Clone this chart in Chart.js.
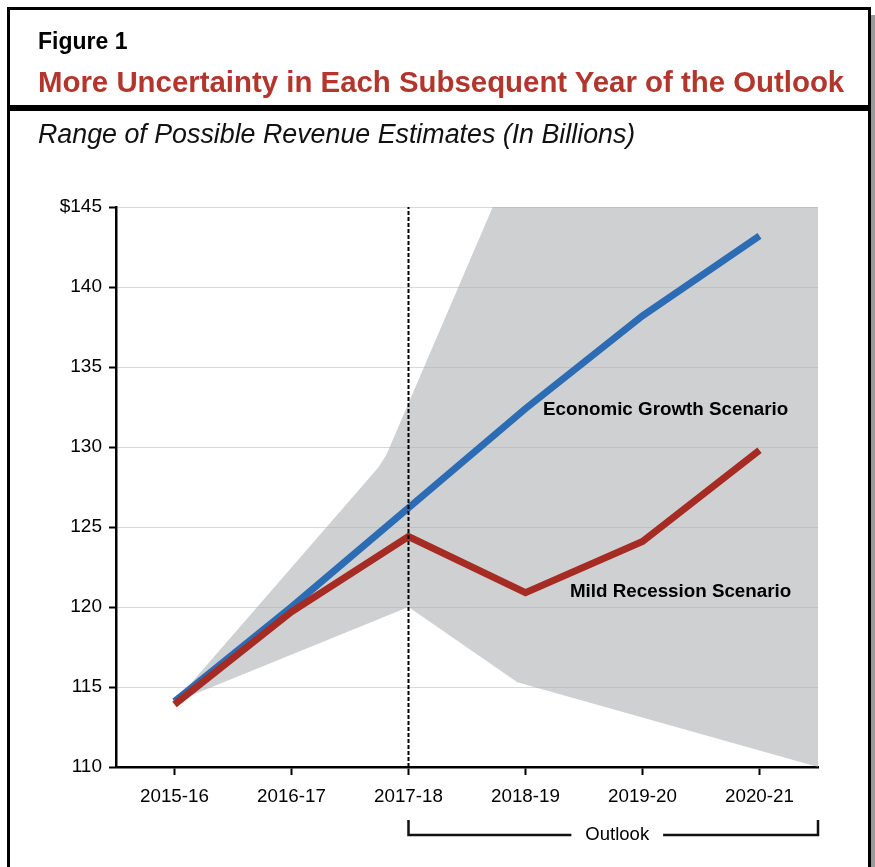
<!DOCTYPE html>
<html>
<head>
<meta charset="utf-8">
<script src="https://cdn.jsdelivr.net/npm/chart.js@4.4.1/dist/chart.umd.min.js"></script>
<style>
  body { margin:0; background:#fff; }
  #page { position:relative; width:875px; height:867px; overflow:hidden; background:#fff; font-family:'Liberation Sans', Arial, Helvetica, sans-serif; }
  #frame { position:absolute; left:7px; top:7px; width:864px; height:900px; border:3px solid #000; box-sizing:border-box; }
  #shadow { position:absolute; left:871px; top:15px; width:4px; height:900px; background:#9a9a9a; }
  #bar { position:absolute; left:7px; top:105px; width:864px; height:6px; background:#000; }
  .txt { position:absolute; left:38px; line-height:1; white-space:nowrap; z-index:2; }
  #fig { top:30px; font-size:23px; font-weight:bold; color:#000; }
  #title { top:67px; font-size:29.4px; font-weight:bold; color:#b3352c; }
  #sub { top:121px; font-size:26.8px; font-style:italic; color:#111; }
  #wrap { position:absolute; left:0; top:0; width:875px; height:867px; z-index:1; }
</style>
</head>
<body>
<div id="page">
  <div id="shadow"></div>
  <div id="frame"></div>
  <div id="bar"></div>
  <div class="txt" id="fig">Figure 1</div>
  <div class="txt" id="title">More Uncertainty in Each Subsequent Year of the Outlook</div>
  <div class="txt" id="sub">Range of Possible Revenue Estimates (In Billions)</div>
  <div id="wrap"><canvas id="chart" width="875" height="867"></canvas></div>
</div>
<script>
  // fiscal years on the x axis
  const years = ['2015-16', '2016-17', '2017-18', '2018-19', '2019-20', '2020-21'];
  // scenario revenues, billions
  const growth = [114.1, 120.0, 126.2, 132.4, 138.2, 143.2];
  const recession = [113.9, 119.7, 124.4, 120.9, 124.1, 129.8];
  // edges of the grey range (x = year index)
  const rangeHighX = [0, 1.74, 1.81, 2.72, 5.5];
  const rangeHighY = [114.05, 128.7, 129.5, 145, 145];
  const rangeLowX = [0, 2, 2.93, 5.5];
  const rangeLowY = [114.05, 120.0, 115.3, 110];
  const yMin = 110, yMax = 145, yStep = 5;
  const outlookStart = 2;

  const font = "'Liberation Sans', Arial, Helvetica, sans-serif";
  Chart.defaults.font.family = font;

  const toPoints = (xs, ys) => xs.map((x, i) => ({ x: x, y: ys[i] }));
  const rangeShape = toPoints(rangeHighX, rangeHighY).concat(toPoints(rangeLowX, rangeLowY).reverse());

  /* labels + bracket under the axis */
  const notes = {
    id: 'notes',
    afterDatasetsDraw(chart) {
      const ctx = chart.ctx, xs = chart.scales.x, ys = chart.scales.y, area = chart.chartArea;
      ctx.save();
      ctx.fillStyle = '#000';
      ctx.font = 'bold 18.8px ' + font;
      ctx.textBaseline = 'middle';
      ctx.textAlign = 'left';
      ctx.fillText('Economic Growth Scenario', xs.getPixelForValue(3.15), ys.getPixelForValue(132.3));
      ctx.fillText('Mild Recession Scenario', xs.getPixelForValue(3.38), ys.getPixelForValue(120.95));

      // Outlook bracket
      const left = xs.getPixelForValue(outlookStart), right = area.right;
      const top = area.bottom + 53, yb = area.bottom + 68;
      const mid = (left + right) / 2 + 4;
      ctx.font = '18.5px ' + font;
      const half = ctx.measureText('Outlook').width / 2 + 14;
      ctx.strokeStyle = '#111';
      ctx.lineWidth = 2.5;
      ctx.beginPath();
      ctx.moveTo(left, top); ctx.lineTo(left, yb); ctx.lineTo(mid - half, yb);
      ctx.moveTo(mid + half, yb); ctx.lineTo(right, yb); ctx.lineTo(right, top);
      ctx.stroke();
      ctx.textAlign = 'center';
      ctx.fillText('Outlook', mid, yb);
      ctx.restore();
    }
  };

  new Chart(document.getElementById('chart'), {
    type: 'line',
    data: {
      datasets: [
        {
          label: 'divider',
          data: [{ x: outlookStart, y: yMin }, { x: outlookStart, y: yMax }],
          borderColor: '#000', borderWidth: 2, borderDash: [4, 2],
          pointRadius: 0, fill: false
        },
        {
          label: 'Mild Recession Scenario',
          data: toPoints(years.map((_, i) => i), recession),
          borderColor: '#a52b23', borderWidth: 7, borderJoinStyle: 'miter',
          pointRadius: 0, fill: false
        },
        {
          label: 'Economic Growth Scenario',
          data: toPoints(years.map((_, i) => i), growth),
          borderColor: '#2b6cb4', borderWidth: 7, borderJoinStyle: 'miter',
          pointRadius: 0, fill: false
        },
        {
          label: 'range',
          data: rangeShape,
          borderWidth: 0, borderColor: 'rgba(0,0,0,0)',
          backgroundColor: 'rgba(172,174,178,0.58)',
          pointRadius: 0, fill: 'shape'
        }
      ]
    },
    options: {
      responsive: false,
      animation: false,
      events: [],
      layout: { padding: { top: 207, left: 20, right: 57, bottom: 0 } },
      plugins: { legend: { display: false }, tooltip: { enabled: false } },
      scales: {
        x: {
          type: 'linear',
          min: -0.5, max: 5.5,
          afterBuildTicks: s => { s.ticks = years.map((_, i) => ({ value: i })); },
          afterFit: s => { s.height = 100; },
          grid: { drawOnChartArea: false, tickLength: 8, tickColor: '#000', tickWidth: 2 },
          border: { color: '#000', width: 2.5 },
          ticks: {
            autoSkip: false, maxRotation: 0, padding: 11,
            color: '#000', font: { size: 18.8 },
            callback: v => years[v]
          }
        },
        y: {
          min: yMin, max: yMax,
          afterFit: s => { s.width = 96; },
          grid: { color: '#d9d9d9', lineWidth: 1, tickLength: 7, tickColor: '#000', tickWidth: 2 },
          border: { color: '#000', width: 2.5 },
          ticks: {
            stepSize: yStep, padding: 7,
            color: '#000', font: { size: 19 },
            callback: v => v === yMax ? '$' + v : v
          }
        }
      }
    },
    plugins: [notes]
  });
</script>
</body>
</html>
